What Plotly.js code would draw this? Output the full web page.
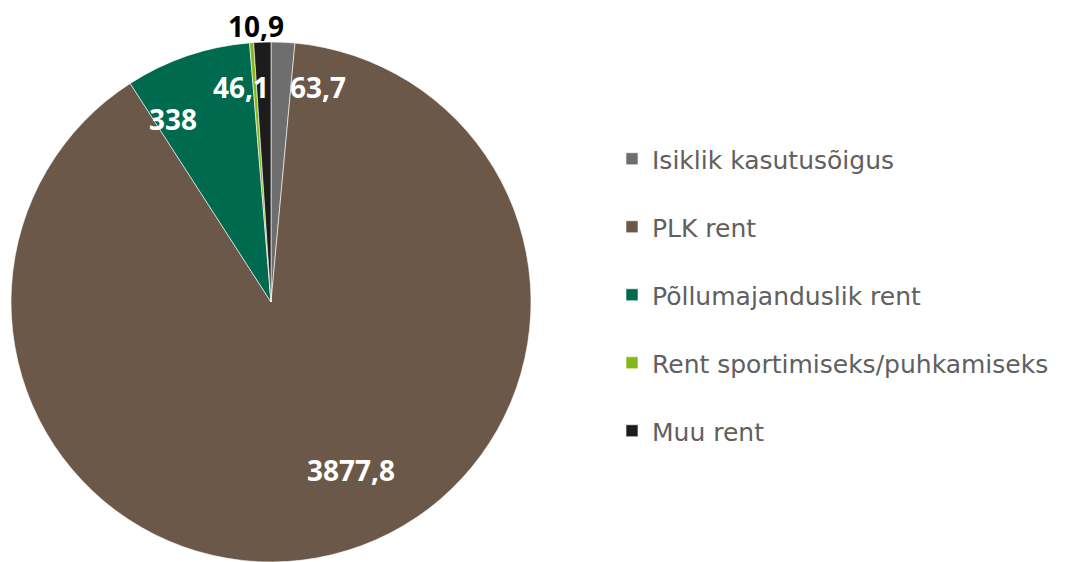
<!DOCTYPE html>
<html>
<head>
<meta charset="utf-8">
<script src="https://cdn.plot.ly/plotly-3.0.1.min.js"></script>
<style>html,body{margin:0;padding:0;background:#fff;}#chart{width:1069px;height:562px;}</style>
</head>
<body>
<div id="chart"></div>
<script>
const categories = ["Isiklik kasutusõigus", "PLK rent", "Põllumajanduslik rent", "Rent sportimiseks/puhkamiseks", "Muu rent"];
const values = [63.7, 3877.8, 338, 10.9, 46.1];
const valueLabels = ["63,7", "3877,8", "338", "10,9", "46,1"];
const colors = ["#6e6e6e", "#6b5849", "#006a4e", "#84b817", "#1c1c1c"];

const W = 1069, H = 562;
const cx = 271, cy = 302, R = 260;

const trace = {
  type: "pie",
  labels: categories.map(c => c + "<br> "),
  values: values,
  sort: false,
  direction: "clockwise",
  rotation: 0,
  marker: { colors: colors, line: { color: "#ffffff", width: 0.6 } },
  textinfo: "none",
  hoverinfo: "label+value",
  domain: { x: [(cx - R) / W, (cx + R) / W], y: [(H - cy - R) / H, (H - cy + R) / H] }
};

// label anchor positions (paper px) for value labels
const labelPos = [[318, 87], [351, 470], [173, 119], [256, 26], [241, 87]];
const labelColor = ["#ffffff", "#ffffff", "#ffffff", "#000000", "#ffffff"];

const annotations = valueLabels.map((t, i) => ({
  text: "<b>" + t + "</b>",
  x: labelPos[i][0] / W, y: 1 - labelPos[i][1] / H,
  xref: "paper", yref: "paper", showarrow: false,
  xanchor: "center", yanchor: "middle",
  font: { family: "Open Sans, sans-serif", size: 28, color: labelColor[i] }
}));

const layout = {
  width: W, height: H,
  margin: { l: 0, r: 0, t: 0, b: 0 },
  paper_bgcolor: "#ffffff",
  showlegend: true,
  legend: {
    x: 612 / W, y: 0.5 - 30 / H, xanchor: "left", yanchor: "middle",
    valign: "top",
    font: { family: "DejaVu Sans, sans-serif", size: 25, color: "#606060" },
    itemwidth: 30
  },
  annotations: annotations
};

Plotly.newPlot("chart", [trace], layout, { displayModeBar: false, staticPlot: true });
</script>
</body>
</html>
